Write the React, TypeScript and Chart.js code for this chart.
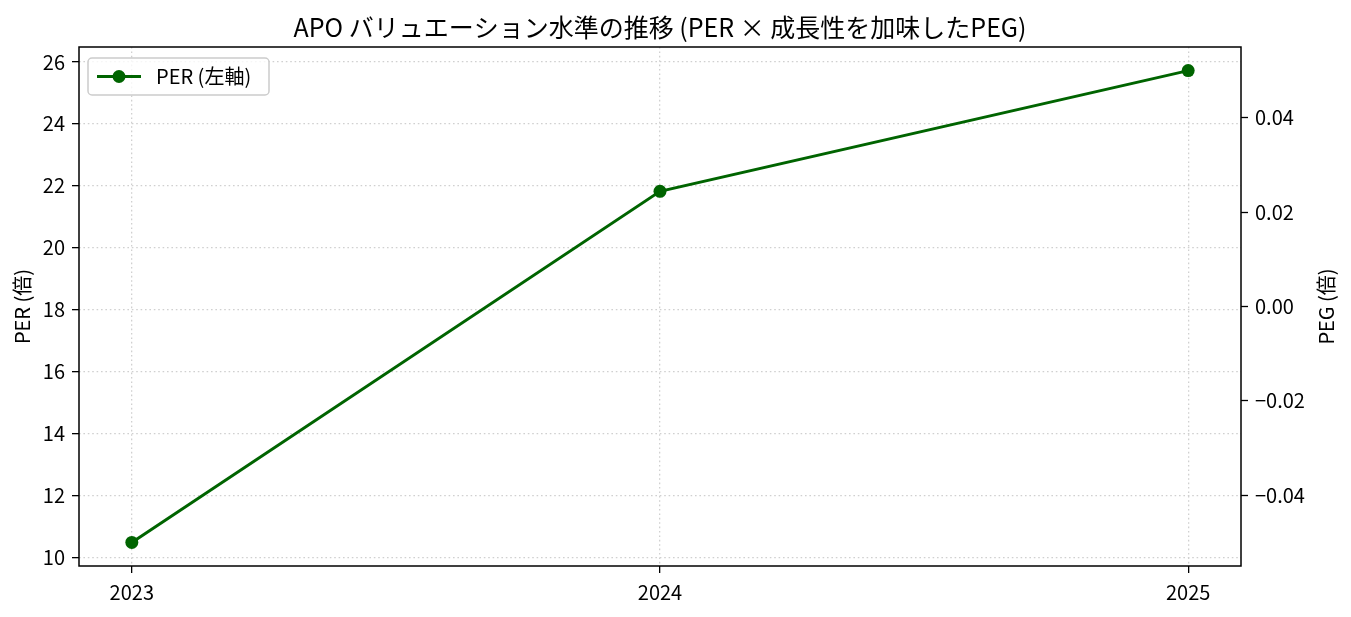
import React, { useEffect, useRef } from "react";
import { Chart, registerables } from "chart.js";

Chart.register(...registerables);

const years = [2023, 2024, 2025];
const perValues = [10.48, 21.82, 25.72];
const leftTicks = [10, 12, 14, 16, 18, 20, 22, 24, 26];
const rightTicks = [-0.04, -0.02, 0, 0.02, 0.04];
const titleText = "APO バリュエーション水準の推移 (PER × 成長性を加味したPEG)";
const legendLabel = "PER (左軸)";
const leftAxisLabel = "PER (倍)";
const rightAxisLabel = "PEG (倍)";

const FONT = '"Liberation Sans Narrow", "Noto Sans CJK JP", sans-serif';
const GREEN = "#006400";

function withMargin(vals: number[], frac: number): [number, number] {
  const lo = Math.min(...vals);
  const hi = Math.max(...vals);
  const m = (hi - lo) * frac;
  return [lo - m, hi + m];
}

export default function App() {
  const ref = useRef<HTMLCanvasElement | null>(null);

  useEffect(() => {
    document.body.style.margin = "0";
    const canvas = ref.current;
    if (!canvas) return;
    const [yMin, yMax] = withMargin(perValues, 0.05);
    const [xMin, xMax] = withMargin(years, 0.05);

    const decor = {
      id: "decor",
      afterDraw(chart: any) {
        const { ctx, chartArea } = chart;
        const { left, right, top, bottom } = chartArea;
        ctx.save();
        // frame
        ctx.strokeStyle = "#000";
        ctx.lineWidth = 1.5;
        ctx.strokeRect(left, top, right - left, bottom - top);
        // title
        ctx.fillStyle = "#000";
        ctx.font = `25px ${FONT}`;
        ctx.textAlign = "center";
        ctx.textBaseline = "middle";
        ctx.fillText(titleText, (left + right) / 2, 27);
        // axis labels
        ctx.font = `20px ${FONT}`;
        const cy = (top + bottom) / 2;
        ctx.save();
        ctx.translate(22, cy);
        ctx.rotate(-Math.PI / 2);
        ctx.fillText(leftAxisLabel, 0, 0);
        ctx.restore();
        ctx.save();
        ctx.translate(1326, cy);
        ctx.rotate(-Math.PI / 2);
        ctx.fillText(rightAxisLabel, 0, 0);
        ctx.restore();
        // legend
        const lx = 88, ly = 58, lw = 181, lh = 37;
        ctx.beginPath();
        (ctx as any).roundRect(lx, ly, lw, lh, 4);
        ctx.fillStyle = "rgba(255,255,255,0.8)";
        ctx.fill();
        ctx.strokeStyle = "#cccccc";
        ctx.lineWidth = 1.5;
        ctx.stroke();
        const my = ly + lh / 2;
        ctx.strokeStyle = GREEN;
        ctx.lineWidth = 3;
        ctx.beginPath();
        ctx.moveTo(97, my);
        ctx.lineTo(141, my);
        ctx.stroke();
        ctx.fillStyle = GREEN;
        ctx.beginPath();
        ctx.arc(119, my, 6.5, 0, Math.PI * 2);
        ctx.fill();
        ctx.fillStyle = "#000";
        ctx.textAlign = "left";
        ctx.fillText(legendLabel, 156, my);
        ctx.restore();
      },
    };

    const tickFont = { family: FONT, size: 20 };

    const chart = new Chart(canvas, {
      type: "line",
      data: {
        datasets: [
          {
            label: legendLabel,
            data: years.map((y, i) => ({ x: y, y: perValues[i] })),
            borderColor: GREEN,
            backgroundColor: GREEN,
            borderWidth: 3,
            pointRadius: 6.5,
            pointHoverRadius: 6.5,
            pointBackgroundColor: GREEN,
            pointBorderColor: GREEN,
            pointBorderWidth: 0,
            tension: 0,
            yAxisID: "y",
          },
        ],
      },
      options: {
        animation: false,
        responsive: true,
        maintainAspectRatio: false,
        events: [],
        layout: { padding: { top: 47, left: 0, right: 0, bottom: 0 } },
        plugins: {
          legend: { display: false },
          title: { display: false },
          tooltip: { enabled: false },
        },
        scales: {
          x: {
            type: "linear",
            min: xMin,
            max: xMax,
            afterBuildTicks: (s: any) => {
              s.ticks = years.map((v) => ({ value: v }));
            },
            afterFit: (s: any) => {
              s.height = 51;
            },
            ticks: {
              font: tickFont,
              color: "#000",
              padding: 7,
              maxRotation: 0,
              autoSkip: false,
              callback: (v: any) => String(v),
            },
            grid: {
              color: "#d0d0d0",
              lineWidth: 1.3,
              tickColor: "#000",
              tickLength: 7,
              tickWidth: 1.3,
              tickBorderDash: [],
            },
            border: { display: false, dash: [1.6, 2.8] },
          },
          y: {
            type: "linear",
            position: "left",
            min: yMin,
            max: yMax,
            afterBuildTicks: (s: any) => {
              s.ticks = leftTicks.map((v) => ({ value: v }));
            },
            afterFit: (s: any) => {
              s.width = 79;
            },
            ticks: {
              font: tickFont,
              color: "#000",
              padding: 7,
              autoSkip: false,
              callback: (v: any) => String(v),
            },
            grid: {
              color: "#d0d0d0",
              lineWidth: 1.3,
              tickColor: "#000",
              tickLength: 7,
              tickWidth: 1.3,
              tickBorderDash: [],
            },
            border: { display: false, dash: [1.6, 2.8] },
          },
          y2: {
            type: "linear",
            position: "right",
            min: -0.055,
            max: 0.055,
            afterBuildTicks: (s: any) => {
              s.ticks = rightTicks.map((v) => ({ value: v }));
            },
            afterFit: (s: any) => {
              s.width = 110;
            },
            ticks: {
              font: tickFont,
              color: "#000",
              padding: 7,
              autoSkip: false,
              callback: (v: any) => {
                const n = Number(v);
                const s = Math.abs(n).toFixed(2);
                return n < -1e-9 ? "\u2212" + s : s;
              },
            },
            grid: {
              drawOnChartArea: false,
              tickColor: "#000",
              tickLength: 7,
              tickWidth: 1.3,
              tickBorderDash: [],
            },
            border: { display: false },
          },
        },
      } as any,
      plugins: [decor],
    });

    return () => chart.destroy();
  }, []);

  return (
    <div style={{ position: "absolute", left: 0, top: 0, width: 1351, height: 617, background: "#fff" }}>
      <canvas ref={ref} />
    </div>
  );
}
